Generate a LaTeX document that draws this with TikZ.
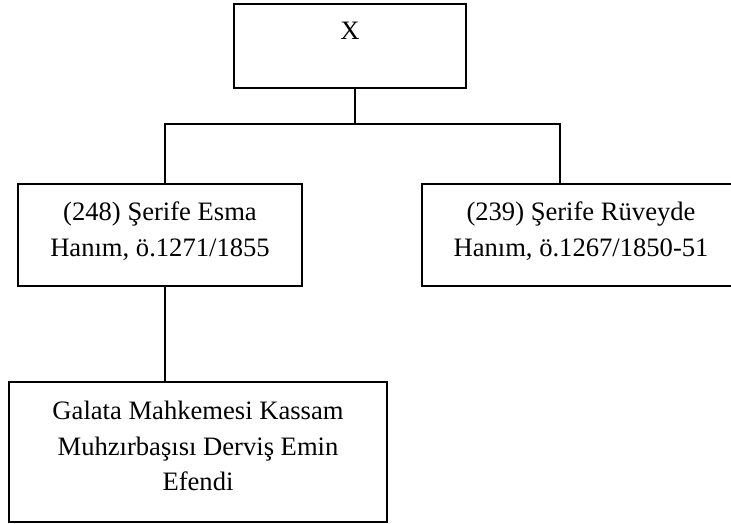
\documentclass[tikz,border=0pt]{standalone}
\usepackage{fontspec}
\setmainfont{Liberation Serif}
\begin{document}
\begin{tikzpicture}[x=1pt,y=-1pt]
\tikzset{
  box/.style={draw=black,line width=1.8pt,rectangle,inner sep=0pt},
  lbl/.style={align=center,font=\fontsize{26.6}{35.5}\selectfont,inner sep=0pt,text=black},
  link/.style={draw=black,line width=1.8pt,line cap=rect}
}
\clip (0,0) rectangle (731,524);
\fill[white] (0,0) rectangle (731,524);
% boxes
\node[box,minimum width=232pt,minimum height=84pt] (top) at (350,46) {};
\node[lbl] (topt) at (350,30.5) {X};
\node[box,minimum width=284pt,minimum height=102pt] (left) at (160,235) {};
\node[lbl] (leftt) at (160,231) {(248) Şerife Esma\\Hanım, ö.1271/1855};
\node[box,minimum width=318pt,minimum height=102pt] (right) at (581,235) {};
\node[lbl] (rightt) at (581,231) {(239) Şerife Rüveyde\\Hanım, ö.1267/1850-51};
\node[box,minimum width=378pt,minimum height=140pt] (bot) at (198,452) {};
\node[lbl] (bott) at (198,446) {Galata Mahkemesi Kassam\\Muhzırbaşısı Derviş Emin\\Efendi};
% connectors
\coordinate (j) at (355,124);
\coordinate (jl) at (165,124);
\coordinate (jr) at (560,124);
\draw[link] (top.south -| j) -- (j);
\draw[link] (jl) -- (jr);
\draw[link] (jl) -- (left.north -| jl);
\draw[link] (jr) -- (right.north -| jr);
\draw[link] (left.south -| jl) -- (bot.north -| jl);
\end{tikzpicture}
\end{document}
